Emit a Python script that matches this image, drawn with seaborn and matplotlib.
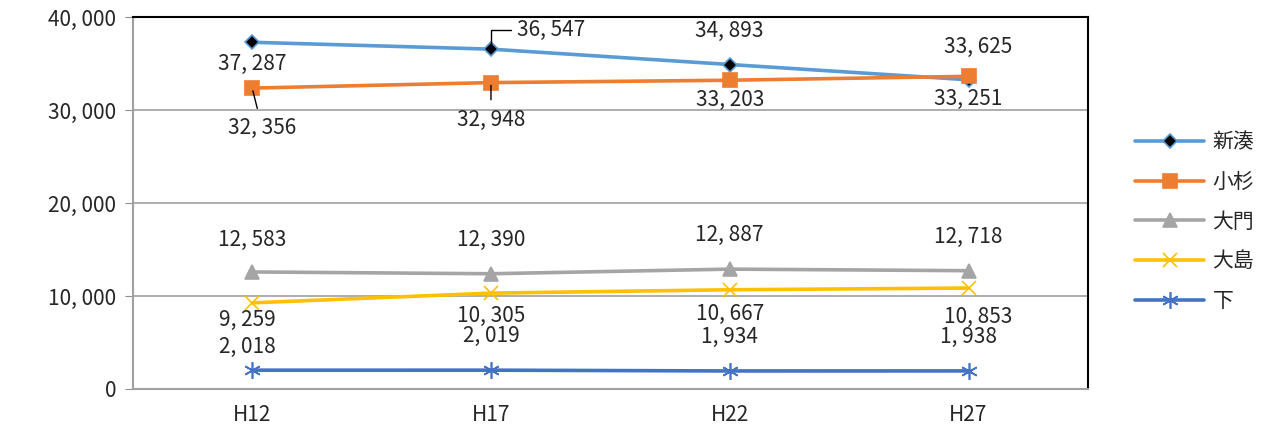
import numpy as np
import pandas as pd
import matplotlib
matplotlib.use("Agg")
import matplotlib.pyplot as plt
import seaborn as sns

years = ["H12", "H17", "H22", "H27"]
shinminato = [37287, 36547, 34893, 33251]
kosugi = [32356, 32948, 33203, 33625]
daimon = [12583, 12390, 12887, 12718]
oshima = [9259, 10305, 10667, 10853]
shimo = [2018, 2019, 1934, 1938]

series = {"新湊": shinminato, "小杉": kosugi, "大門": daimon, "大島": oshima, "下": shimo}

sns.set_style("white")
plt.rcParams['font.family'] = ['Noto Sans CJK JP', 'DejaVu Sans']

styles = {
    "新湊": dict(color="#5B9BD5", marker="D", ms=7, mfc="black", mec="#5B9BD5"),
    "小杉": dict(color="#ED7D31", marker="s", ms=10, mfc="#ED7D31", mec="#ED7D31"),
    "大門": dict(color="#A5A5A5", marker="^", ms=10, mfc="#A5A5A5", mec="#A5A5A5"),
    "大島": dict(color="#FFC000", marker="x", ms=10, mfc="#FFC000", mec="#FFC000"),
    "下": dict(color="#4472C4", marker=(6, 2, 0), ms=12, mfc="#4472C4", mec="#4472C4"),
}
# label offsets in pixels (dx, dy) per point
offsets = {
    "新湊": [(0, -22), (60, 19), (0, 34), (0, -19)],
    "小杉": [(10, -40), (0, -37), (0, -20), (10, 29)],
    "大門": [(0, 32), (0, 34), (0, 34), (0, 34)],
    "大島": [(-5, -17), (0, -23), (0, -24), (10, -29)],
    "下": [(-5, 23), (0, 34), (0, 34), (0, 34)],
}
leaders = {
    ("新湊", 1): dict(connectionstyle="angle,angleA=0,angleB=90,rad=0", shrinkA=2, shrinkB=4),
    ("小杉", 0): dict(shrinkA=4, shrinkB=2),
    ("小杉", 1): dict(shrinkA=4, shrinkB=2),
}
fs = 15

fig = plt.figure(figsize=(12.65, 4.26), dpi=100)
ax = fig.add_axes([0.105, 0.087, 0.755, 0.873])

for name, vals in series.items():
    st = styles[name]
    sns.lineplot(x=years, y=vals, ax=ax, color=st["color"], lw=2.6, label=name,
                 marker=st["marker"], markersize=st["ms"], sort=False)
    ln = ax.lines[-1]
    ln.set_markerfacecolor(st["mfc"])
    ln.set_markeredgecolor(st["mec"])
    ln.set_markeredgewidth(1.2)
    for i, v in enumerate(vals):
        dx, dy = offsets[name][i]
        txt = f"{v:,}".replace(",", ", ")
        kw = {}
        if (name, i) in leaders:
            kw["arrowprops"] = dict(arrowstyle="-", color="black", lw=1.0, **leaders[(name, i)])
        ax.annotate(txt, (i, v), xytext=(dx, dy), textcoords="offset pixels",
                    ha="center", va="center", fontsize=fs, **kw)

ax.set_xlim(-0.5, 3.5)
ax.set_ylim(0, 40000)
ax.set_yticks(np.arange(0, 40001, 10000))
ax.set_yticklabels([f"{t:,}".replace(",", ", ") for t in range(0, 40001, 10000)], fontsize=fs)
ax.set_xticks(range(len(years)))
ax.set_xticklabels(years, fontsize=15)
ax.set_xticks(np.arange(-0.5, 3.6, 1), minor=True)
ax.tick_params(axis="x", which="major", length=0, pad=11)
ax.tick_params(axis="x", which="minor", length=6, color="#909090", direction="out")
ax.tick_params(axis="y", length=6, color="#909090", direction="out", left=True, pad=6)
ax.grid(axis="y", color="#A0A0A0", lw=1.2)
ax.set_xlabel("")
ax.set_ylabel("")
for s in ["left", "bottom"]:
    ax.spines[s].set_color("#A0A0A0")
    ax.spines[s].set_linewidth(1.5)
for s in ["top", "right"]:
    ax.spines[s].set_color("black")
    ax.spines[s].set_linewidth(1.5)

ax.legend(loc="center left", bbox_to_anchor=(1.03, 0.45), frameon=False, fontsize=fs,
          handlelength=3.3, labelspacing=0.85, handletextpad=0.4)

fig.savefig("out.png", dpi=100)
